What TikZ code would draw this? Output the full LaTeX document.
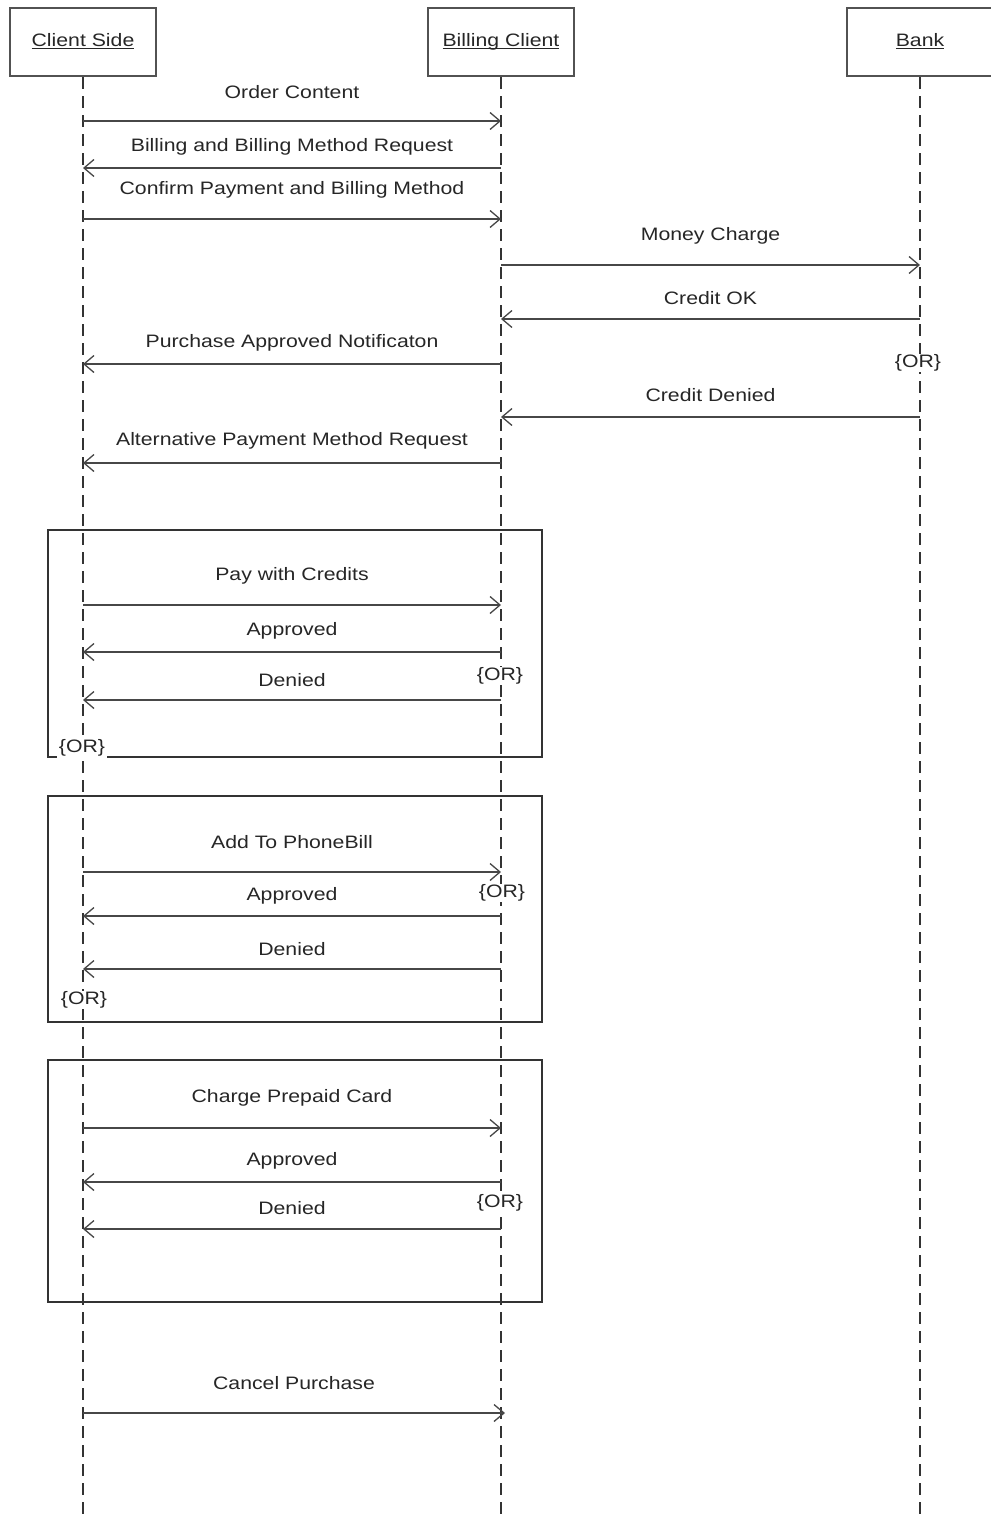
\documentclass[tikz,border=0pt]{standalone}
\usepackage{fontspec}
\setmainfont{Liberation Sans}[FakeStretch=1.18]
\usetikzlibrary{arrows.meta}
\newcommand\headtext[1]{\underline{\smash{#1}}}

\begin{document}
\begin{tikzpicture}[x=1pt,y=-1pt]
  \useasboundingbox (0,0) rectangle (990,1514);
  \tikzset{head/.style={draw=black!68,line width=2.2pt,minimum width=146,minimum height=68,
                        text height=14pt,text depth=4pt,
                        font=\fontsize{18}{21}\selectfont,text=black!85},
           life/.style={draw=black!80,line width=1.5pt,dash pattern=on 12pt off 7pt},
           frame/.style={draw=black!80,line width=1.6pt},
           msg/.style={draw=black!72,line width=1.7pt,-{Straight Barb[length=10pt,width=17pt,line width=1.3pt]}},
           lbl/.style={midway,font=\fontsize{18}{21}\selectfont,text=black!85},
           orlbl/.style={fill=white,inner sep=1pt,font=\fontsize{18}{21}\selectfont,text=black!85}}
  \node[head] (client) at (83,42) {\headtext{Client Side}};
  \node[head] (billing) at (501,42) {\headtext{Billing Client}};
  \node[head] (bank) at (920,42) {\headtext{Bank}};
  \draw[frame] (48,530) rectangle (542,757);
  \draw[frame] (48,796) rectangle (542,1022);
  \draw[frame] (48,1060) rectangle (542,1302);
  \draw[life] (client.south) -- (client |- 0,1514);
  \draw[life] (billing.south) -- (billing |- 0,1514);
  \draw[life] (bank.south) -- (bank |- 0,1514);
  \draw[msg] (client |- 0,121) -- node[lbl,yshift=29] (m1) {Order Content} (billing |- 0,121);
  \draw[msg] (billing |- 0,168) -- node[lbl,yshift=21] (m2) {Billing and Billing Method Request} (client |- 0,168);
  \draw[msg] (client |- 0,219) -- node[lbl,yshift=29] (m3) {Confirm Payment and Billing Method} (billing |- 0,219);
  \draw[msg] (billing |- 0,265) -- node[lbl,yshift=29] (m4) {Money Charge} (bank |- 0,265);
  \draw[msg] (bank |- 0,319) -- node[lbl,yshift=21] (m5) {Credit OK} (billing |- 0,319);
  \draw[msg] (billing |- 0,364) -- node[lbl,yshift=21] (m6) {Purchase Approved Notificaton} (client |- 0,364);
  \draw[msg] (bank |- 0,417) -- node[lbl,yshift=22] (m7) {Credit Denied} (billing |- 0,417);
  \draw[msg] (billing |- 0,463) -- node[lbl,yshift=22] (m8) {Alternative Payment Method Request} (client |- 0,463);
  \draw[msg] (client |- 0,605) -- node[lbl,yshift=29] (m9) {Pay with Credits} (billing |- 0,605);
  \draw[msg] (billing |- 0,652) -- node[lbl,yshift=21] (m10) {Approved} (client |- 0,652);
  \draw[msg] (billing |- 0,700) -- node[lbl,yshift=20] (m11) {Denied} (client |- 0,700);
  \draw[msg] (client |- 0,872) -- node[lbl,yshift=30] (m12) {Add To PhoneBill} (billing |- 0,872);
  \draw[msg] (billing |- 0,916) -- node[lbl,yshift=20] (m13) {Approved} (client |- 0,916);
  \draw[msg] (billing |- 0,969) -- node[lbl,yshift=20] (m14) {Denied} (client |- 0,969);
  \draw[msg] (client |- 0,1128) -- node[lbl,yshift=30] (m15) {Charge Prepaid Card} (billing |- 0,1128);
  \draw[msg] (billing |- 0,1182) -- node[lbl,yshift=21] (m16) {Approved} (client |- 0,1182);
  \draw[msg] (billing |- 0,1229) -- node[lbl,yshift=21] (m17) {Denied} (client |- 0,1229);
  \draw[msg] (client |- 0,1413) -- node[lbl,yshift=30] (m18) {Cancel Purchase} ([xshift=4]billing |- 0,1413);
  \node[orlbl] (or1) at (918,363) {\{OR\}};
  \node[orlbl] (or2) at (500,676) {\{OR\}};
  \node[orlbl,inner sep=2pt] (or3) at (82,748) {\{OR\}};
  \node[orlbl] (or4) at (502,893) {\{OR\}};
  \node[orlbl] (or5) at (84,1000) {\{OR\}};
  \node[orlbl] (or6) at (500,1203) {\{OR\}};
\end{tikzpicture}
\end{document}
